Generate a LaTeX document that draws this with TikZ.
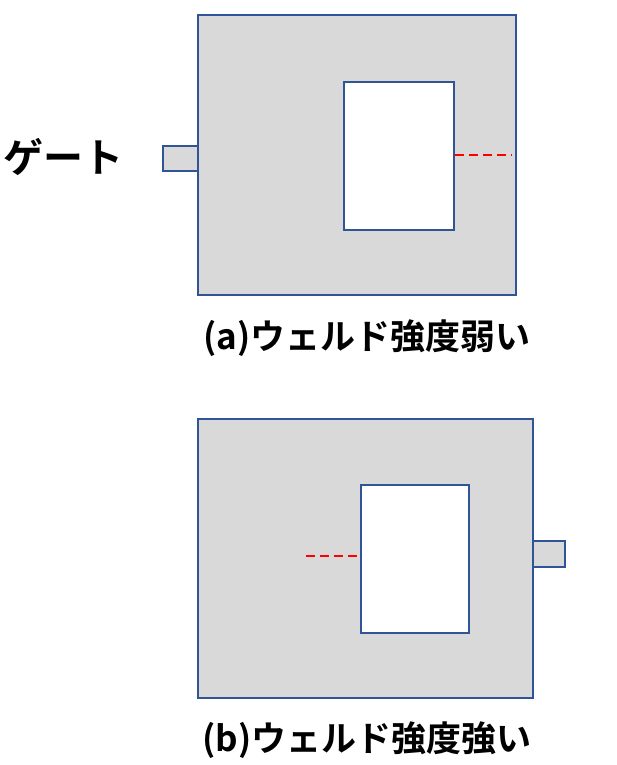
\documentclass[tikz,border=0pt]{standalone}
\usepackage{fontspec}
\newfontfamily\jpfont{Noto Sans CJK JP Bold}
\usetikzlibrary{calc}

\definecolor{mold}{HTML}{D9D9D9}
\definecolor{edge}{HTML}{2F5597}
\tikzset{
    part/.style={draw=edge, line width=2pt, fill=mold, rectangle, inner sep=0pt},
    cavity/.style={draw=edge, line width=2pt, fill=white, rectangle, inner sep=0pt},
    weld/.style={draw=red, line width=2pt, dash pattern=on 9pt off 5pt},
    caption/.style={font=\jpfont\fontsize{35}{40}\selectfont, text=black, inner sep=0pt}
}

\begin{document}
\begin{tikzpicture}[x=1pt, y=-1pt]
    \useasboundingbox (0,0) rectangle (616,765);
    % (a) gate on the left
    \node[part, minimum width=35pt, minimum height=25pt] (gateA) at (180.5,158.5) {};
    \node[part, minimum width=318pt, minimum height=280pt] (moldA) at (357,155) {};
    \node[cavity, minimum width=110pt, minimum height=148pt] (holeA) at (399,156) {};
    \coordinate (weldA) at (512,155);
    \draw[weld] (holeA.east |- weldA) -- (weldA);
    \node[caption, font=\jpfont\fontsize{40}{44}\selectfont, anchor=west] (gateLabel) at (3,157) {ゲート};
    \node[caption] (capA) at (367,338) {(a)ウェルド強度弱い};
    % (b) gate on the right
    \node[part, minimum width=33pt, minimum height=26pt] (gateB) at (548.5,554) {};
    \node[part, minimum width=335pt, minimum height=279pt] (moldB) at (365.5,558.5) {};
    \node[cavity, minimum width=108pt, minimum height=148pt] (holeB) at (415,559) {};
    \coordinate (weldB) at (306,556);
    \draw[weld] (weldB) -- (holeB.west |- weldB);
    \node[caption] (capB) at (367,740) {(b)ウェルド強度強い};
\end{tikzpicture}
\end{document}
